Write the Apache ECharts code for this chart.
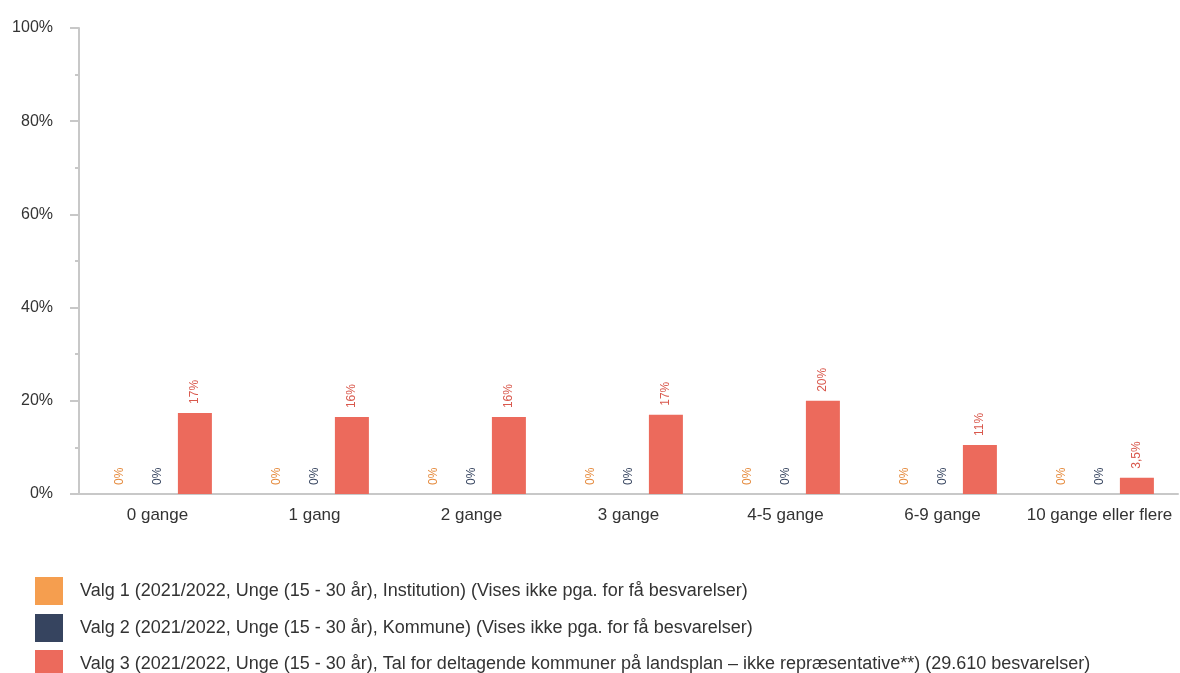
<!DOCTYPE html>
<html>
<head>
<meta charset="utf-8">
<script src="https://cdn.jsdelivr.net/npm/echarts@6/dist/echarts.min.js"></script>
<style>html,body{margin:0;padding:0;background:#fff}#c{width:1180px;height:673px}</style>
</head>
<body>
<div id="c"></div>
<script>
const categories = ['0 gange', '1 gang', '2 gange', '3 gange', '4-5 gange', '6-9 gange', '10 gange eller flere'];
const seriesNames = [
  'Valg 1 (2021/2022, Unge (15 - 30 år), Institution) (Vises ikke pga. for få besvarelser)',
  'Valg 2 (2021/2022, Unge (15 - 30 år), Kommune) (Vises ikke pga. for få besvarelser)',
  'Valg 3 (2021/2022, Unge (15 - 30 år), Tal for deltagende kommuner på landsplan – ikke repræsentative**) (29.610 besvarelser)'
];
const valg1 = [0, 0, 0, 0, 0, 0, 0];
const valg2 = [0, 0, 0, 0, 0, 0, 0];
const valg3 = [17.4, 16.5, 16.5, 17, 20, 10.5, 3.5];
const valg1Labels = ['0%', '0%', '0%', '0%', '0%', '0%', '0%'];
const valg2Labels = ['0%', '0%', '0%', '0%', '0%', '0%', '0%'];
const valg3Labels = ['17%', '16%', '16%', '17%', '20%', '11%', '3,5%'];
const yTicks = ['0%', '20%', '40%', '60%', '80%', '100%'];
const colors = ['#f59e4f', '#36445f', '#ec6a5c'];
const labelColors = ['#e58a3c', '#36445f', '#d9584c'];

const font = 'Liberation Sans, Arial, sans-serif';
function mk(name, data, labels, color, lcolor) {
  return {
    name: name, type: 'bar', data: data,
    barWidth: 34, barGap: '10%',
    itemStyle: { color: color },
    label: {
      show: true, position: 'top', rotate: 90, align: 'left', verticalAlign: 'middle',
      distance: 9, color: lcolor, fontSize: 12, fontFamily: font,
      formatter: p => labels[p.dataIndex]
    }
  };
}
function leg(i, top) {
  return {
    orient: 'vertical', left: 35, top: top, itemWidth: 28, itemHeight: 28,
    icon: 'rect', padding: 0,
    textStyle: { fontSize: 18, color: '#333', fontFamily: font, padding: [0, 0, 0, 12] },
    data: [seriesNames[i]]
  };
}
const chart = echarts.init(document.getElementById('c'));
chart.setOption({
  animation: false,
  color: colors,
  grid: { left: 79, right: 2, top: 28, bottom: 179, containLabel: false },
  legend: [leg(0, 577), leg(1, 614), leg(2, 650)],
  xAxis: {
    type: 'category', data: categories,
    axisLine: { lineStyle: { color: '#c8c8c8', width: 2 } },
    axisTick: { show: false },
    axisLabel: { fontSize: 17, color: '#333', fontFamily: font, margin: 13, interval: 0 }
  },
  yAxis: {
    type: 'value', min: 0, max: 100, interval: 20,
    axisLine: { show: true, lineStyle: { color: '#c8c8c8', width: 2 } },
    axisTick: { show: true, length: 9, lineStyle: { color: '#c8c8c8', width: 2 } },
    minorTick: { show: true, splitNumber: 2, length: 4, lineStyle: { color: '#c8c8c8', width: 2 } },
    splitLine: { show: false },
    axisLabel: { fontSize: 16, color: '#333', fontFamily: font, margin: 26,
      formatter: v => yTicks[Math.round(v / 20)] }
  },
  series: [
    mk(seriesNames[0], valg1, valg1Labels, colors[0], labelColors[0]),
    mk(seriesNames[1], valg2, valg2Labels, colors[1], labelColors[1]),
    mk(seriesNames[2], valg3, valg3Labels, colors[2], labelColors[2])
  ]
});
</script>
</body>
</html>
